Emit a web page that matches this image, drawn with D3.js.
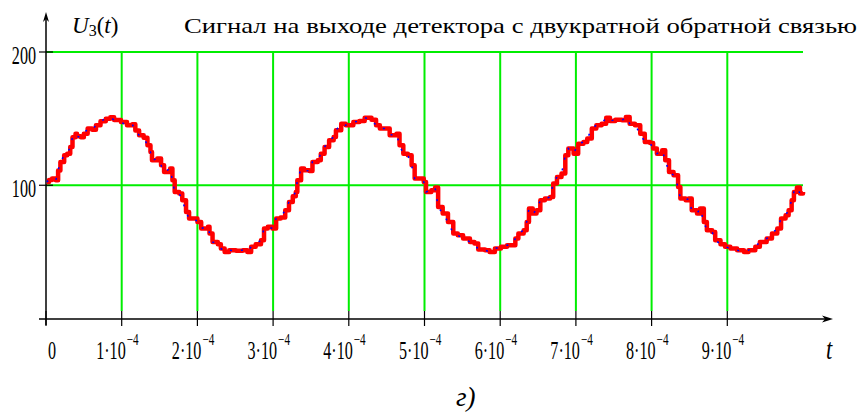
<!DOCTYPE html>
<html>
<head>
<meta charset="utf-8">
<script src="https://cdn.jsdelivr.net/npm/d3@7"></script>
<style>
body{margin:0;background:#fff;}
svg{display:block;}
</style>
</head>
<body>
<div id="chart"></div>
<script>
//chart size
var svgWidth=862;
var svgHeight=417;

//time in units of 1e-4 s
var tData=[0.01,0.04,0.08,0.13,0.16,0.19,0.24,0.28,0.32,0.35,0.39,0.41,0.46,0.50,0.55,0.61,0.66,0.72,0.79,0.85,
0.90,0.99,1.07,1.14,1.18,1.23,1.29,1.34,1.38,1.40,1.47,1.52,1.56,1.64,1.67,1.70,1.76,1.80,1.85,1.89,
1.96,2.00,2.05,2.14,2.16,2.20,2.27,2.31,2.36,2.42,2.51,2.60,2.66,2.71,2.77,2.84,2.88,2.93,2.99,3.04,
3.10,3.16,3.21,3.26,3.30,3.32,3.37,3.41,3.48,3.52,3.59,3.63,3.68,3.74,3.80,3.83,3.90,3.96,4.06,4.14,
4.21,4.30,4.36,4.41,4.47,4.54,4.63,4.67,4.72,4.78,4.83,4.87,4.94,4.99,5.02,5.09,5.14,5.18,5.24,5.31,
5.38,5.44,5.51,5.60,5.66,5.71,5.80,5.86,5.93,6.01,6.09,6.15,6.20,6.24,6.31,6.35,6.38,6.43,6.48,6.53,
6.59,6.66,6.70,6.75,6.81,6.86,6.90,6.97,7.03,7.10,7.15,7.21,7.27,7.34,7.40,7.45,7.52,7.61,7.66,7.71,
7.78,7.85,7.91,7.98,8.02,8.07,8.14,8.18,8.23,8.29,8.35,8.38,8.45,8.49,8.53,8.60,8.64,8.69,8.73,8.80,
8.84,8.91,8.97,9.04,9.13,9.22,9.28,9.37,9.43,9.52,9.59,9.66,9.71,9.77,9.81,9.85,9.88,9.92,9.96,10.00];

//detector output U3(t)
var uData=[102.5,104,105,103.7,111,117.5,122.5,123.7,128.7,136,138.7,136.7,136,138.7,142.5,141.7,145,148,150,151,
149,147.4,145,145.7,141,137.5,135.7,130,125,118.7,120,115,110,112.5,103.7,95,93.8,88.8,80,75,
75,72.5,67.6,68.8,63.8,57.5,55.8,52.6,50,51.3,50.8,51.3,50,53.8,55.8,58.8,67.6,68.8,67.6,75,
75.8,81.3,87.5,91.8,95,103.7,112.5,111.2,110.7,117.5,118.7,123.7,128.7,133.7,136.2,141.2,146.2,145,147.4,148.2,
150.7,149.2,145,142.5,142.5,137.5,138.7,130,123.7,122.5,115,105,105,102.5,95,96.3,98.3,83.7,78.8,72.5,
63.8,62.5,60,57.5,56.3,51.8,51.3,50,52.6,53.8,55,55,60,63.8,66.3,72.5,82.5,78.8,81.3,88.8,
90,91.2,101.3,106.2,108.8,122.5,127.5,123.7,131.2,132.4,135,142.5,145,146.2,150.7,148.2,149.2,148.7,151.2,146.2,
145,138.7,132.4,131.7,127.5,123.7,126.2,118.7,110,107.5,98.7,90,88.8,90,81.3,78.8,82.5,72.5,66.3,65,
58.8,55.8,53.8,52.6,51.3,50,51.3,53.8,57.5,60,63.8,67.6,75,77.5,81.3,88.8,95,98.3,93.8,95];

//x ticks and their labels
var xTicks=[0,1e-4,2e-4,3e-4,4e-4,5e-4,6e-4,7e-4,8e-4,9e-4];
var xTickLabels=["0","1·10","2·10","3·10","4·10","5·10","6·10","7·10","8·10","9·10"];
var xTickExp=["","−4","−4","−4","−4","−4","−4","−4","−4","−4"];
//y ticks
var yTicks=[100,200];
var yTickLabels=["100","200"];

var signal=tData.map(function(t,i){return {t:t*1e-4,u:uData[i]};});

var svg=d3.select("#chart")
    .append("svg")
    .attr("width",svgWidth)
    .attr("height",svgHeight);

var xScale=d3.scaleLinear().domain([0,1e-3]).range([46,803]);
var yScale=d3.scaleLinear().domain([0,200]).range([318.5,52]);

var green="#00ee00";

//grid
svg.selectAll(".vgrid")
    .data(xTicks.slice(1))
    .enter()
    .append("line")
    .attr("x1",d=>xScale(d)).attr("x2",d=>xScale(d))
    .attr("y1",yScale(200)).attr("y2",311)
    .attr("stroke",green).attr("stroke-width",2);

svg.selectAll(".hgrid")
    .data(yTicks)
    .enter()
    .append("line")
    .attr("x1",xScale(0)).attr("x2",xScale(1e-3))
    .attr("y1",d=>yScale(d)).attr("y2",d=>yScale(d))
    .attr("stroke",green).attr("stroke-width",2);

//axes
svg.append("line")
    .attr("x1",39).attr("x2",826)
    .attr("y1",yScale(0)+0.5).attr("y2",yScale(0)+0.5)
    .attr("stroke","#000").attr("stroke-width",1.5);
svg.append("path")
    .attr("d",`M833,${yScale(0)+0.5} L822,${yScale(0)-3} L825,${yScale(0)+0.5} L822,${yScale(0)+4} Z`)
    .attr("fill","#000");
svg.append("line")
    .attr("x1",46).attr("x2",46)
    .attr("y1",16).attr("y2",325)
    .attr("stroke","#000").attr("stroke-width",1.5);
svg.append("path")
    .attr("d","M46,12 L43,22 L46,19 L49,22 Z")
    .attr("fill","#000");

//tick marks
svg.selectAll(".xtick")
    .data(xTicks)
    .enter()
    .append("line")
    .attr("x1",d=>xScale(d)).attr("x2",d=>xScale(d))
    .attr("y1",311).attr("y2",326)
    .attr("stroke","#000").attr("stroke-width",1.2);
svg.selectAll(".ytick")
    .data(yTicks)
    .enter()
    .append("line")
    .attr("x1",39).attr("x2",53)
    .attr("y1",d=>yScale(d)).attr("y2",d=>yScale(d))
    .attr("stroke","#000").attr("stroke-width",1.2);

//tick labels (narrow, tall digits)
var tickFont="'Liberation Serif','Times New Roman',serif";
xTicks.forEach(function(d,i){
    var x=xScale(d);
    if(xTickExp[i]===""){
        svg.append("text")
            .attr("transform",`translate(${x+2},359) scale(0.62,1)`)
            .attr("font-family",tickFont).attr("font-size",26)
            .text(xTickLabels[i]);
    } else {
        svg.append("text")
            .attr("transform",`translate(${x+4},359) scale(0.62,1)`)
            .attr("font-family",tickFont).attr("font-size",26)
            .attr("text-anchor","end")
            .text(xTickLabels[i]);
        svg.append("text")
            .attr("transform",`translate(${x+5},345) scale(0.7,1)`)
            .attr("font-family",tickFont).attr("font-size",16)
            .text(xTickExp[i]);
    }
});
yTicks.forEach(function(d,i){
    svg.append("text")
        .attr("transform",`translate(36,${yScale(d)+12}) scale(0.62,1)`)
        .attr("font-family",tickFont).attr("font-size",26)
        .attr("text-anchor","end")
        .text(yTickLabels[i]);
});

//signal: red staircase with blue reference dashes
svg.append("path")
    .datum(signal)
    .attr("fill","none")
    .attr("stroke","#ff0000")
    .attr("stroke-width",4.5)
    .attr("stroke-linejoin","round")
    .attr("d",d3.line().x(d=>xScale(d.t)).y(d=>yScale(d.u)).curve(d3.curveStepAfter));
svg.append("path")
    .datum(signal)
    .attr("fill","none")
    .attr("stroke","#0000ff")
    .attr("stroke-width",1.5)
    .attr("stroke-dasharray","2,9")
    .attr("d",d3.line().x(d=>xScale(d.t)).y(d=>yScale(d.u)));

//labels
var serif="'Liberation Serif','Times New Roman',serif";
var ylab=svg.append("text")
    .attr("x",72).attr("y",33)
    .attr("font-family",serif).attr("font-size",23);
ylab.append("tspan").attr("font-style","italic").text("U");
ylab.append("tspan").attr("font-size",16).attr("dy",3).text("3");
ylab.append("tspan").attr("dy",-3).text("(");
ylab.append("tspan").attr("font-style","italic").text("t");
ylab.append("tspan").text(")");

svg.append("text")
    .attr("x",184).attr("y",33)
    .attr("font-family",serif).attr("font-size",22)
    .attr("textLength",673).attr("lengthAdjust","spacingAndGlyphs")
    .text("Сигнал на выходе детектора с двукратной обратной связью");

svg.append("text")
    .attr("transform","translate(826,359) scale(0.75,1)")
    .attr("font-family",serif).attr("font-size",30).attr("font-style","italic")
    .text("t");

svg.append("text")
    .attr("x",456).attr("y",406)
    .attr("font-family",serif).attr("font-size",27).attr("font-style","italic")
    .text("г)");
</script>
</body>
</html>
